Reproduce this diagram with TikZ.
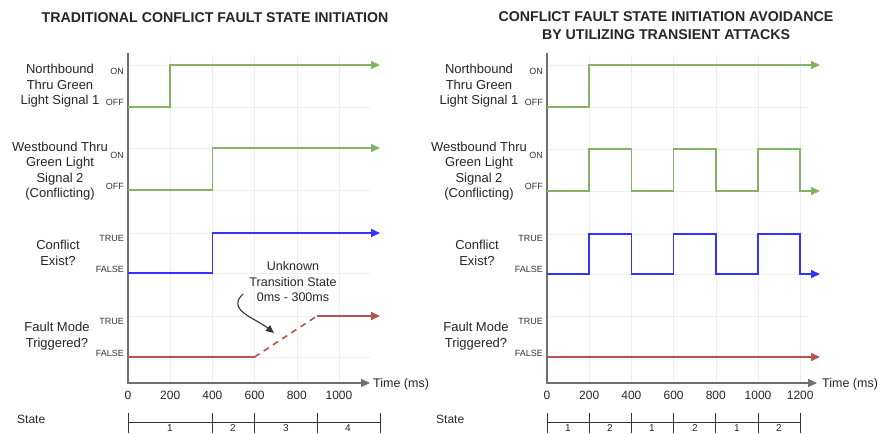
\documentclass[tikz,border=0pt]{standalone}
\usepackage{fontspec}
\setmainfont{Liberation Sans}
\usetikzlibrary{arrows.meta}
\definecolor{sgreen}{HTML}{82B366}
\definecolor{sred}{HTML}{B85450}
\definecolor{sblue}{HTML}{3333FF}
\definecolor{axisgray}{HTML}{707070}
\definecolor{gridgray}{HTML}{EEEEEE}
\begin{document}
\begin{tikzpicture}[x=1pt,y=-1pt,
  wave/.style={line width=1.6pt,line join=miter,-{Triangle[length=9pt,width=8pt]}},
  axisline/.style={draw=axisgray,line width=1.4pt},
  gridline/.style={draw=gridgray,line width=0.6pt},
  titletext/.style={font=\bfseries\fontsize{14.2}{18}\selectfont,align=center,text=black!85},
  rowlab/.style={align=center,font=\fontsize{13}{15.5}\selectfont,text=black!85},
  lvl/.style={anchor=east,font=\fontsize{9}{10}\selectfont,text=black!80,inner sep=0pt},
  ticklab/.style={font=\fontsize{12}{14}\selectfont,text=black!85,inner sep=0pt},
  timelab/.style={font=\fontsize{12.5}{14}\selectfont,text=black!85,inner sep=0pt,anchor=west},
  statenum/.style={font=\fontsize{10}{12}\selectfont,text=black!85,inner sep=0pt,anchor=north},
  annot/.style={align=center,font=\fontsize{12.5}{15.5}\selectfont,text=black!85}]
\useasboundingbox (0,0) rectangle (887,434);
\fill[white] (0,0) rectangle (887,434);

% ================= LEFT PANEL =================
\node[titletext] (tl) at (215,18) {TRADITIONAL CONFLICT FAULT STATE INITIATION};
% grid
\foreach \x in {170.2,212.4,254.6,296.8,339} \draw[gridline] (\x,55) -- (\x,382);
\foreach \y in {65,107,148,190,233,273,316,357} \draw[gridline] (129,\y) -- (370,\y);
% axes
\coordinate (lo) at (128,383);
\coordinate (ltop) at (128,53);
\coordinate (lend) at (370,383);
\draw[axisline,-{Triangle[length=9pt,width=8pt]}] (ltop) -- (lo) -- (lend);
\node[timelab] (ltime) at (373,384) {Time (ms)};
\foreach \x/\t [count=\i] in {128/0,170.2/200,212.4/400,254.6/600,296.8/800,339/1000}
  \node[ticklab] (ltick\i) at (\x,395) {\t};
% row labels
\node[rowlab] (ln1) at (60,86) {Northbound\\Thru Green\\Light Signal 1};
\node[rowlab] (ln2) at (60,171) {Westbound Thru\\Green Light\\Signal 2\\(Conflicting)};
\node[rowlab] (ln3) at (58,253) {Conflict\\Exist?};
\node[rowlab] (ln4) at (57,336) {Fault Mode\\Triggered?};
\node[lvl] (lon1) at (124,71) {ON};
\node[lvl] (loff1) at (124,102) {OFF};
\node[lvl] (lon2) at (124,155) {ON};
\node[lvl] (loff2) at (124,186) {OFF};
\node[lvl] (ltr3) at (124,238) {TRUE};
\node[lvl] (lfa3) at (124,269) {FALSE};
\node[lvl] (ltr4) at (124,321) {TRUE};
\node[lvl] (lfa4) at (124,353) {FALSE};
% waves
\draw[wave,sgreen] (128,107) -- (170.2,107) -- (170.2,65) -- (380,65);
\draw[wave,sgreen] (128,190) -- (212.4,190) -- (212.4,148) -- (380,148);
\draw[wave,sblue] (128,273) -- (212.4,273) -- (212.4,233) -- (380,233);
\coordinate (fd1) at (254.6,357);
\coordinate (fd2) at (317,316);
\draw[line width=1.6pt,sred] (128,357) -- (fd1);
\draw[line width=1.6pt,sred,dash pattern=on 6pt off 5pt] (fd1) -- (fd2);
\draw[wave,sred] (fd2) -- (380,316);
% annotation
\node[annot] (ann) at (293,282) {Unknown\\Transition State\\0ms - 300ms};
\coordinate (annstart) at (243,294);
\coordinate (annend) at (274,333);
\draw[line width=1.1pt,black!80,-{Triangle[length=8pt,width=7pt]}] (annstart) .. controls (226,310) and (255,318) .. (annend);
% state bar
\node[anchor=west,ticklab] (lstate) at (17,419) {State};
\draw[line width=0.9pt,black!80] (128,422) -- (380,422);
\foreach \x in {128,212.4,254.6,317,380} \draw[line width=0.9pt,black!80] (\x,413) -- (\x,433);
\node[statenum] (ls1) at (170,424.5) {1};
\node[statenum] (ls2) at (233,424.5) {2};
\node[statenum] (ls3) at (286,424.5) {3};
\node[statenum] (ls4) at (348,424.5) {4};

% ================= RIGHT PANEL =================
\node[titletext] (tr) at (666,26) {CONFLICT FAULT STATE INITIATION AVOIDANCE\\BY UTILIZING TRANSIENT ATTACKS};
\foreach \x in {589.2,631.4,673.6,715.8,758,800.2} \draw[gridline] (\x,55) -- (\x,382);
\foreach \y in {65,107,149,191,234,274,316,357} \draw[gridline] (548,\y) -- (808,\y);
\coordinate (ro) at (547,383);
\coordinate (rtop) at (547,53);
\coordinate (rend) at (817,383);
\draw[axisline,-{Triangle[length=9pt,width=8pt]}] (rtop) -- (ro) -- (rend);
\node[timelab] (rtime) at (822,384) {Time (ms)};
\foreach \x/\t [count=\i] in {547/0,589.2/200,631.4/400,673.6/600,715.8/800,758/1000,800.2/1200}
  \node[ticklab] (rtick\i) at (\x,395) {\t};
\node[rowlab] (rn1) at (479,86) {Northbound\\Thru Green\\Light Signal 1};
\node[rowlab] (rn2) at (479,171) {Westbound Thru\\Green Light\\Signal 2\\(Conflicting)};
\node[rowlab] (rn3) at (477,253) {Conflict\\Exist?};
\node[rowlab] (rn4) at (476,336) {Fault Mode\\Triggered?};
\node[lvl] (ron1) at (543,71) {ON};
\node[lvl] (roff1) at (543,102) {OFF};
\node[lvl] (ron2) at (543,155) {ON};
\node[lvl] (roff2) at (543,186) {OFF};
\node[lvl] (rtr3) at (543,238) {TRUE};
\node[lvl] (rfa3) at (543,269) {FALSE};
\node[lvl] (rtr4) at (543,321) {TRUE};
\node[lvl] (rfa4) at (543,353) {FALSE};
\draw[wave,sgreen] (547,107) -- (589.2,107) -- (589.2,65) -- (820,65);
\draw[wave,sgreen] (547,191) -- (589.2,191) -- (589.2,149) -- (631.4,149) -- (631.4,191)
  -- (673.6,191) -- (673.6,149) -- (715.8,149) -- (715.8,191) -- (758,191) -- (758,149)
  -- (800.2,149) -- (800.2,191) -- (820,191);
\draw[wave,sblue] (547,274) -- (589.2,274) -- (589.2,234) -- (631.4,234) -- (631.4,274)
  -- (673.6,274) -- (673.6,234) -- (715.8,234) -- (715.8,274) -- (758,274) -- (758,234)
  -- (800.2,234) -- (800.2,274) -- (820,274);
\draw[wave,sred] (547,357) -- (820,357);
\node[anchor=west,ticklab] (rstate) at (436,419) {State};
\draw[line width=0.9pt,black!80] (547,422) -- (800.2,422);
\foreach \x in {547,589.2,631.4,673.6,715.8,758,800.2} \draw[line width=0.9pt,black!80] (\x,413) -- (\x,433);
\foreach \x/\n [count=\i] in {568/1,610/2,652/1,695/2,737/1,779/2}
  \node[statenum] (rs\i) at (\x,424.5) {\n};
\end{tikzpicture}
\end{document}
